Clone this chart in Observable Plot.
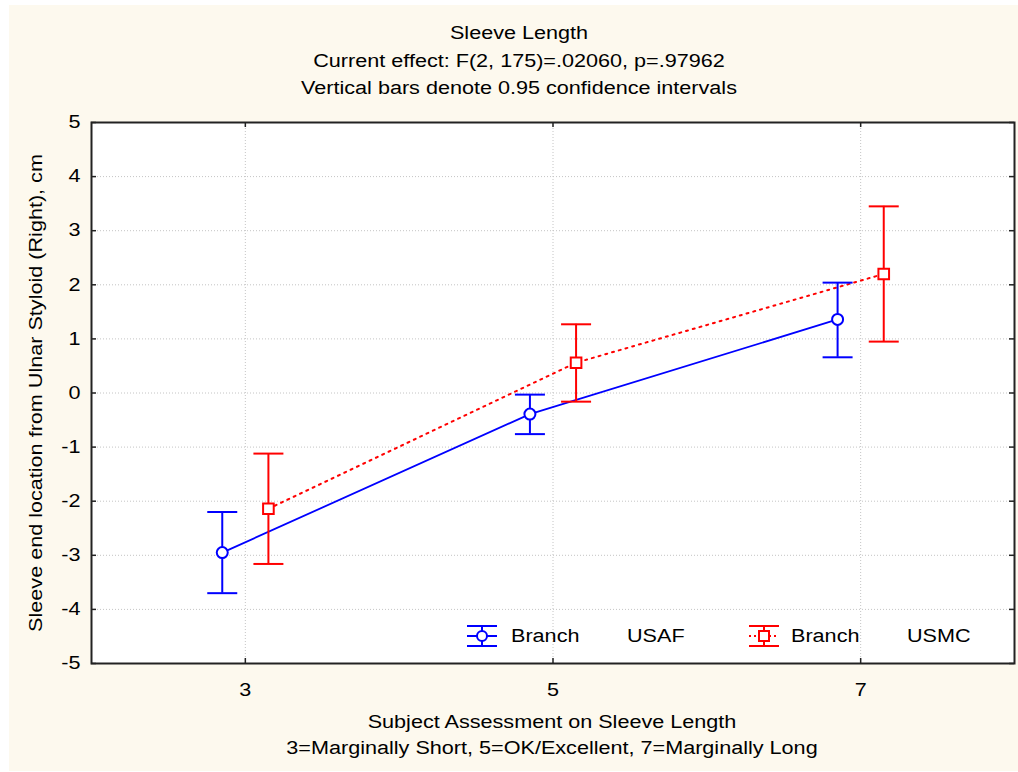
<!DOCTYPE html>
<html><head><meta charset="utf-8">
<script src="https://cdn.jsdelivr.net/npm/d3@7"></script>
<script src="https://cdn.jsdelivr.net/npm/@observablehq/plot@0.6"></script>
<style>
html,body{margin:0;padding:0;background:#fff;}
#page{position:relative;width:1018px;height:772px;overflow:hidden;}
#bg{position:absolute;left:9px;top:5px;width:1009px;height:766px;background:#fdf9ee;}
.t{position:absolute;white-space:nowrap;font-family:"Liberation Sans",Arial,sans-serif;font-size:18px;line-height:18px;color:#000;}
#chart{position:absolute;left:9px;top:105px;}
.sym{position:absolute;overflow:visible;}
</style></head><body><div id="page"><div id="bg"></div><div id="chart"></div></div>
<script>
// ---- data ----
const levels = [3, 5, 7];
const xTicks = [3, 5, 7];
const yTicks = [-5, -4, -3, -2, -1, 0, 1, 2, 3, 4, 5];
const usafMean = [-2.95, -0.39, 1.36];
const usafLow  = [-3.70, -0.76, 0.66];
const usafHigh = [-2.20, -0.03, 2.04];
const usmcMean = [-2.14, 0.56, 2.20];
const usmcLow  = [-3.16, -0.16, 0.95];
const usmcHigh = [-1.12, 1.27, 3.45];
const seriesNames = ["USAF", "USMC"];
const legendPrefix = "Branch";
const titleLines = ["Sleeve Length", "Current effect: F(2, 175)=.02060, p=.97962", "Vertical bars denote 0.95 confidence intervals"];
const xTitleLines = ["Subject Assessment on Sleeve Length", "3=Marginally Short, 5=OK/Excellent, 7=Marginally Long"];
const yTitle = "Sleeve end location from Ulnar Styloid (Right), cm";

const blue = "#0000ff", red = "#ff0000";
const dodge = 0.15;
const usaf = levels.map((x, i) => ({x: x - dodge, mean: usafMean[i], low: usafLow[i], high: usafHigh[i]}));
const usmc = levels.map((x, i) => ({x: x + dodge, mean: usmcMean[i], low: usmcLow[i], high: usmcHigh[i]}));

// ---- layout ----
const W = 1009, H = 600, mL = 82, mR = 4, mT = 17, mB = 42;
const iW = W - mL - mR, iH = H - mT - mB, tk = 5;
const cap = {draw(ctx) { ctx.moveTo(-15, 0); ctx.lineTo(15, 0); }};
const axisColor = "#222";
const gridStyle = {stroke: "#c4c4c4", strokeOpacity: 1, strokeDasharray: "1,2", strokeWidth: 1};

const chart = Plot.plot({
  width: W, height: H, marginLeft: mL, marginRight: mR, marginTop: mT, marginBottom: mB,
  style: {background: "transparent", fontFamily: '"Liberation Sans", Arial, sans-serif', fontSize: "18px", color: "#000", overflow: "visible"},
  x: {domain: [2, 8], axis: null},
  y: {domain: [-5, 5], axis: null},
  marks: [
    Plot.frame({fill: "white", stroke: "none"}),
    Plot.gridX(xTicks, gridStyle),
    Plot.gridY(yTicks, gridStyle),
    Plot.tickY(yTicks, {y: d => d, insetRight: iW - tk, stroke: axisColor, strokeWidth: 1.5}),
    Plot.tickY(yTicks, {y: d => d, insetLeft: iW - tk, stroke: axisColor, strokeWidth: 1.5}),
    Plot.tickX(xTicks, {x: d => d, insetBottom: iH - tk, stroke: axisColor, strokeWidth: 1.5}),
    Plot.tickX(xTicks, {x: d => d, insetTop: iH - tk, stroke: axisColor, strokeWidth: 1.5}),
    Plot.axisX(xTicks, {tickSize: 0, tickPadding: 20, tickFormat: d => String(d), fontSize: 18, label: null}),
    Plot.axisY(yTicks, {tickSize: 0, tickPadding: 11, tickFormat: d => String(d), fontSize: 18, label: null}),
    Plot.line(usaf, {x: "x", y: "mean", stroke: blue, strokeWidth: 1.8}),
    Plot.line(usmc, {x: "x", y: "mean", stroke: red, strokeWidth: 2, strokeDasharray: "2,5"}),
    Plot.ruleX(usaf, {x: "x", y1: "low", y2: "high", stroke: blue, strokeWidth: 2}),
    Plot.ruleX(usmc, {x: "x", y1: "low", y2: "high", stroke: red, strokeWidth: 2}),
    Plot.dot(usaf, {x: "x", y: "low", symbol: cap, fill: "none", stroke: blue, strokeWidth: 2}),
    Plot.dot(usaf, {x: "x", y: "high", symbol: cap, fill: "none", stroke: blue, strokeWidth: 2}),
    Plot.dot(usmc, {x: "x", y: "low", symbol: cap, fill: "none", stroke: red, strokeWidth: 2}),
    Plot.dot(usmc, {x: "x", y: "high", symbol: cap, fill: "none", stroke: red, strokeWidth: 2}),
    Plot.dot(usaf, {x: "x", y: "mean", r: 5.5, fill: "white", stroke: blue, strokeWidth: 2}),
    Plot.dot(usmc, {x: "x", y: "mean", symbol: "square", r: 6, fill: "white", stroke: red, strokeWidth: 2}),
    Plot.frame({stroke: axisColor, strokeWidth: 2})
  ]
});
// widen tick label glyphs like the reference font rendering
chart.querySelectorAll('g[aria-label="x-axis tick label"] text, g[aria-label="y-axis tick label"] text').forEach(t => {
  const tr = t.getAttribute("transform");
  if (tr) t.setAttribute("transform", tr + " scale(1.2,1)");
  else {
    const x = +(t.getAttribute("x") || 0), y = +(t.getAttribute("y") || 0);
    t.removeAttribute("x"); t.removeAttribute("y");
    t.setAttribute("transform", `translate(${x},${y}) scale(1.2,1)`);
  }
});
document.getElementById("chart").appendChild(chart);

// ---- text ----
const page = document.getElementById("page");
function txt(s, cx, cy, extra = "", origin = "center") {
  const d = document.createElement("div");
  d.className = "t";
  d.textContent = s;
  d.style.left = cx + "px";
  d.style.top = cy + "px";
  if (origin === "left") {
    d.style.transformOrigin = "0 50%";
    d.style.transform = "translateY(-50%) scaleX(1.2)";
  } else {
    d.style.transform = `translate(-50%,-50%) ${extra} scaleX(1.2)`;
  }
  page.appendChild(d);
  return d;
}
titleLines.forEach((s, i) => txt(s, 519, 33 + i * 27.5));
xTitleLines.forEach((s, i) => txt(s, 552, 722 + i * 26));
txt(yTitle, 36, 393, "rotate(-90deg)");

// ---- legend ----
const NS = "http://www.w3.org/2000/svg";
function legendSymbol(left, color, isSquare, dashed) {
  const s = document.createElementNS(NS, "svg");
  s.setAttribute("class", "sym");
  s.setAttribute("width", 34); s.setAttribute("height", 26);
  s.style.left = left + "px"; s.style.top = "623px";
  const add = (tag, attrs) => { const e = document.createElementNS(NS, tag); for (const k in attrs) e.setAttribute(k, attrs[k]); s.appendChild(e); };
  add("line", {x1: 1, x2: 31, y1: 13, y2: 13, stroke: color, "stroke-width": 2, "stroke-dasharray": dashed ? "2,3" : "none"});
  add("line", {x1: 16, x2: 16, y1: 3, y2: 23, stroke: color, "stroke-width": 2});
  add("line", {x1: 1, x2: 31, y1: 3, y2: 3, stroke: color, "stroke-width": 2});
  add("line", {x1: 1, x2: 31, y1: 23, y2: 23, stroke: color, "stroke-width": 2});
  if (isSquare) add("rect", {x: 11, y: 8, width: 10, height: 10, fill: "white", stroke: color, "stroke-width": 2});
  else add("circle", {cx: 16, cy: 13, r: 5, fill: "white", stroke: color, "stroke-width": 2});
  page.appendChild(s);
}
legendSymbol(466, blue, false, false);
legendSymbol(748, red, true, true);
txt(legendPrefix, 511, 636, "", "left");
txt(seriesNames[0], 627, 636, "", "left");
txt(legendPrefix, 791, 636, "", "left");
txt(seriesNames[1], 907, 636, "", "left");
</script></body></html>
